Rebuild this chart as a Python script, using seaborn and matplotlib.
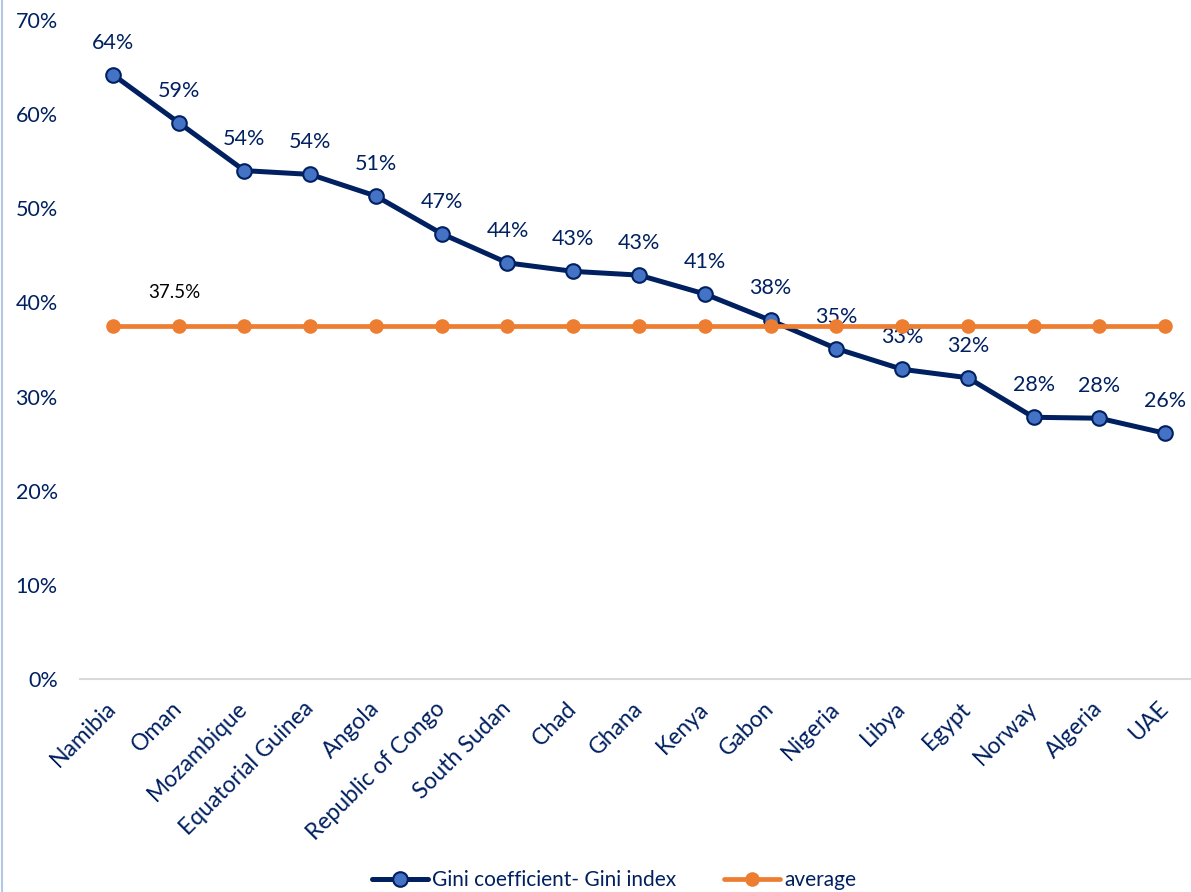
"""
Gini coefficient by country vs. the group average
"""
import numpy as np
import pandas as pd
import matplotlib
matplotlib.use("Agg")
import matplotlib.pyplot as plt
from matplotlib.lines import Line2D
import seaborn as sns

# chart data
countries = ["Namibia", "Oman", "Mozambique", "Equatorial Guinea", "Angola",
             "Republic of Congo", "South Sudan", "Chad", "Ghana", "Kenya",
             "Gabon", "Nigeria", "Libya", "Egypt", "Norway", "Algeria", "UAE"]
gini = [0.642, 0.591, 0.540, 0.536, 0.513, 0.473, 0.442, 0.433, 0.429,
        0.409, 0.381, 0.351, 0.329, 0.320, 0.278, 0.277, 0.261]
average = [0.375] * len(countries)
y_ticks = [0.0, 0.1, 0.2, 0.3, 0.4, 0.5, 0.6, 0.7]
series_labels = ["Gini coefficient- Gini index", "average"]

NAVY = "#002060"
BLUE = "#4472C4"
ORANGE = "#ED7D31"

sns.set_style("white")
plt.rcParams["font.family"] = ["Lato", "DejaVu Sans"]

df = pd.DataFrame({"country": countries, "gini": gini, "average": average})

fig = plt.figure(figsize=(11.91, 8.92), dpi=100)
ax = fig.add_axes([80 / 1191, 213 / 892, 1118 / 1191, 659 / 892])

sns.pointplot(data=df, x="country", y="gini", errorbar=None, color=NAVY,
              markers="o", linewidth=3.6, markersize=10.5, markeredgewidth=1.5,
              markerfacecolor=BLUE, markeredgecolor=NAVY, zorder=3, ax=ax)
sns.pointplot(data=df, x="country", y="average", errorbar=None, color=ORANGE,
              markers="o", linewidth=3.4, markersize=10.5, markeredgewidth=0,
              zorder=4, ax=ax)

# value labels
for i, v in enumerate(gini):
    ax.annotate(f"{v:.0%}", (i, v), xytext=(0, 23), textcoords="offset points",
                ha="center", va="center", fontsize=15.5, color=NAVY, zorder=2.5)
ax.annotate(f"{average[1]:.1%}", (1, average[1]), xytext=(-3, 24),
            textcoords="offset points", ha="center", va="center",
            fontsize=13.5, color="black")

ax.set_xlim(-0.5, len(countries) - 0.5)
ax.set_ylim(0, 0.7)
ax.set_yticks(y_ticks)
ax.set_yticklabels([f"{t:.0%}" for t in y_ticks])
ax.set_xlabel("")
ax.set_ylabel("")
ax.tick_params(axis="y", length=0, pad=16, labelsize=15.5, labelcolor=NAVY)
ax.tick_params(axis="x", length=0, pad=19, labelsize=16.5, labelcolor=NAVY)
plt.setp(ax.get_xticklabels(), rotation=45, ha="right", va="center",
         rotation_mode="anchor")

for side in ["left", "right", "top"]:
    ax.spines[side].set_visible(False)
ax.spines["bottom"].set_color("#D9D9D9")
ax.spines["bottom"].set_linewidth(1.5)
ax.grid(False)

# legend
handles = [
    Line2D([], [], color=NAVY, lw=3.6, marker="o", markersize=10.5,
           markerfacecolor=BLUE, markeredgecolor=NAVY, markeredgewidth=1.5),
    Line2D([], [], color=ORANGE, lw=3.4, marker="o", markersize=10.5,
           markeredgewidth=0),
]
leg = fig.legend(handles, series_labels, loc="center",
                 bbox_to_anchor=(614 / 1191, 1 - 880 / 892), ncol=2,
                 frameon=False, fontsize=15, handlelength=2.7,
                 handletextpad=0.2, columnspacing=2.3)
for t in leg.get_texts():
    t.set_color(NAVY)

# thin border line on the left edge
fig.add_artist(Line2D([0.002, 0.002], [0, 1], color="#B4C7E7", lw=1.5,
                      transform=fig.transFigure))

fig.savefig("out.png", dpi=100)
